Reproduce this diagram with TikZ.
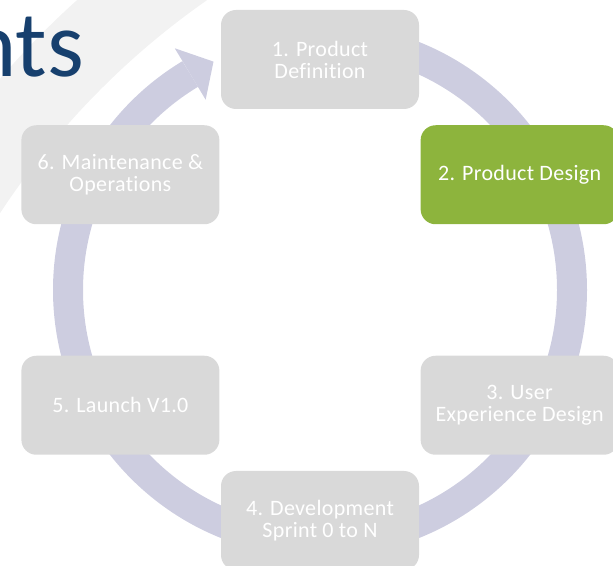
\documentclass[tikz,border=0pt]{standalone}
\usepackage{fontspec}
\setmainfont[Ligatures=NoCommon,LetterSpace=1.5]{Carlito}
\newfontfamily\titlefont{Carlito}
\definecolor{boxgray}{HTML}{D9D9D9}
\definecolor{stepgreen}{HTML}{8DB43D}
\definecolor{ringblue}{HTML}{CDCDE0}
\definecolor{swoosh}{HTML}{F2F2F2}
\definecolor{titleblue}{HTML}{17406E}

\begin{document}
\begin{tikzpicture}[x=1pt,y=1pt,
  phase/.style={rectangle,rounded corners=15pt,fill=boxgray,text=white,align=center,
    minimum width=198pt,minimum height=99pt,inner sep=0pt,
    font=\fontsize{22}{22}\selectfont},
  current/.style={phase,fill=stepgreen}]
\useasboundingbox (0,0) rectangle (613,565);
\clip (0,0) rectangle (613,565);
% background swoosh and title
\fill[swoosh,even odd rule] (653.5,-76) circle[radius=862] (653.5,-76) circle[radius=781];
\node[anchor=base east,inner sep=0pt,text=titleblue,font=\titlefont\fontsize{94}{94}\selectfont] (title) at (84,488) {nts};
\coordinate (c) at (320,275);
% cycle arrow
\begin{scope}[shift={(c)}]
\draw[ringblue,line width=30pt] (90:252) arc[start angle=90,end angle=-239,radius=252];
\fill[ringblue] (115:252) -- (121:282) -- (121:222) -- cycle;
\end{scope}
% phases
\begin{scope}[shift={(c)}]
\node[phase] (p1) at (90:230.5) {1. Product\\Definition};
\node[current] (p2) at (30:230.5) {2. Product Design};
\node[phase] (p3) at (-30:230.5) {3. User\\Experience Design};
\node[phase] (p4) at (-90:230.5) {4. Development\\Sprint 0 to N};
\node[phase] (p5) at (-150:230.5) {5. Launch V1.0};
\node[phase] (p6) at (150:230.5) {6. Maintenance \&\\Operations};
\end{scope}
\end{tikzpicture}
\end{document}
